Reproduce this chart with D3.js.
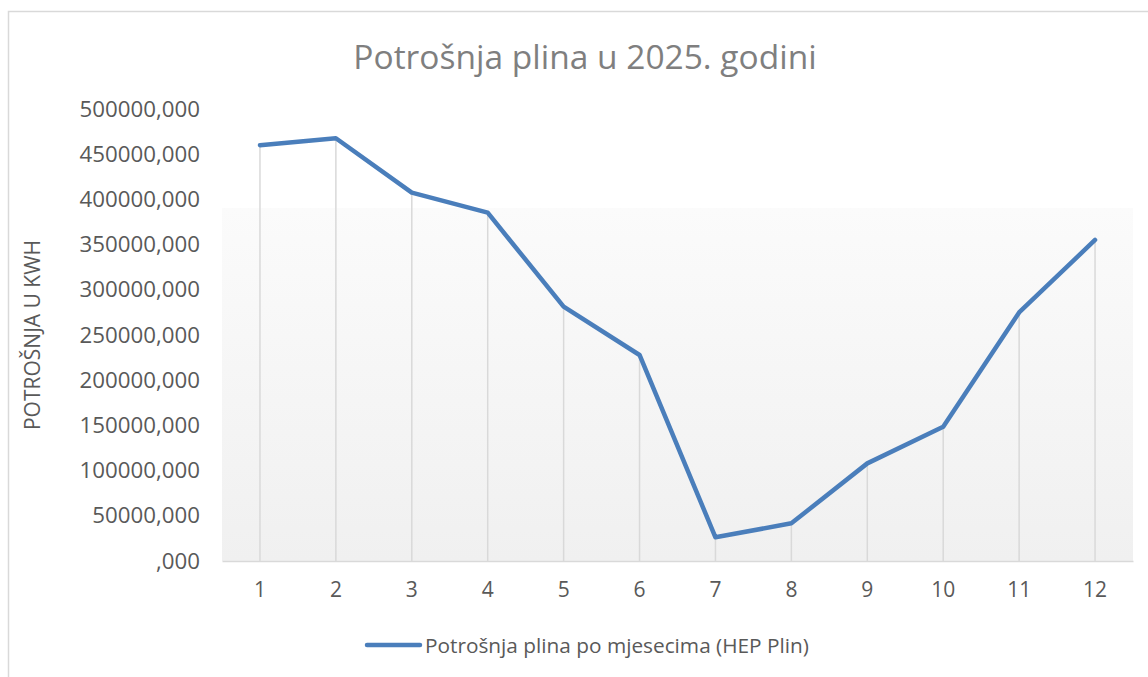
<!DOCTYPE html>
<html>
<head>
<meta charset="utf-8">
<script src="https://cdn.jsdelivr.net/npm/d3@7"></script>
<style>
  body { margin: 0; background: #fff; }
  svg { display: block; font-family: "Open Sans", sans-serif; }
</style>
</head>
<body>
<div id="chart"></div>
<script>
// data
const months = ["1", "2", "3", "4", "5", "6", "7", "8", "9", "10", "11", "12"];
const consumption = [460000, 467600, 407500, 385300, 281300, 227900, 26200, 41700, 108000, 148600, 275000, 355100];
const yTicks = [0, 50000, 100000, 150000, 200000, 250000, 300000, 350000, 400000, 450000, 500000];
const title = "Potrošnja plina u 2025. godini";
const yTitle = "POTROŠNJA U KWH";
const seriesName = "Potrošnja plina po mjesecima (HEP Plin)";

const W = 1148, H = 677;
const plot = { left: 222, right: 1133, top: 109, bottom: 561 };

const svg = d3.select("#chart").append("svg")
  .attr("width", W)
  .attr("height", H);

// gradient for plot background
const defs = svg.append("defs");
const grad = defs.append("linearGradient")
  .attr("id", "bg")
  .attr("x1", 0).attr("y1", 0).attr("x2", 0).attr("y2", 1);
grad.append("stop").attr("offset", "0%").attr("stop-color", "#fbfbfb");
grad.append("stop").attr("offset", "100%").attr("stop-color", "#f0f0f0");

// chart border
svg.append("rect")
  .attr("x", 8.5).attr("y", 11.5)
  .attr("width", W + 10).attr("height", H + 10)
  .attr("fill", "#fff")
  .attr("stroke", "#d9d9d9")
  .attr("stroke-width", 1.5);

const x = d3.scaleBand().domain(months).range([plot.left, plot.right]);
const y = d3.scaleLinear().domain([0, 500000]).range([plot.bottom, plot.top]);
const cx = d => x(d) + x.bandwidth() / 2;

svg.append("rect")
  .attr("x", plot.left).attr("y", 208)
  .attr("width", plot.right - plot.left).attr("height", plot.bottom - 208)
  .attr("fill", "url(#bg)");

// title
svg.append("text")
  .attr("x", 585).attr("y", 69)
  .attr("text-anchor", "middle")
  .attr("font-size", "33.5px")
  .attr("fill", "#7f7f7f")
  .text(title);

// drop lines
svg.append("g").selectAll("line")
  .data(consumption)
  .join("line")
  .attr("x1", (d, i) => cx(months[i])).attr("x2", (d, i) => cx(months[i]))
  .attr("y1", d => y(d)).attr("y2", plot.bottom)
  .attr("stroke", "#d9d9d9")
  .attr("stroke-width", 1.5);

// x axis
const xAxis = svg.append("g")
  .attr("transform", `translate(0,${plot.bottom})`)
  .call(d3.axisBottom(x).tickSize(0).tickPadding(21));
xAxis.select(".domain").attr("stroke", "#d9d9d9").attr("stroke-width", 1.5);
xAxis.selectAll("text")
  .attr("font-size", "21px")
  .attr("fill", "#595959")
  .attr("font-family", "Open Sans, sans-serif");

// y axis
const fmt = v => (v === 0 ? "" : String(v)) + ",000";
const yAxis = svg.append("g")
  .attr("transform", `translate(${plot.left},0)`)
  .call(d3.axisLeft(y).tickValues(yTicks).tickFormat(fmt).tickSize(0).tickPadding(22));
yAxis.select(".domain").remove();
yAxis.selectAll("text")
  .attr("font-size", "22.3px")
  .attr("fill", "#595959")
  .attr("font-family", "Open Sans, sans-serif");

// y title
svg.append("text")
  .attr("transform", `translate(40,${(plot.top + plot.bottom) / 2}) rotate(-90)`)
  .attr("text-anchor", "middle")
  .attr("font-size", "21px")
  .attr("fill", "#595959")
  .text(yTitle);

// the line
const line = d3.line()
  .x((d, i) => cx(months[i]))
  .y(d => y(d));

svg.append("path")
  .datum(consumption)
  .attr("d", line)
  .attr("fill", "none")
  .attr("stroke", "#4a7ebb")
  .attr("stroke-width", 4.5)
  .attr("stroke-linejoin", "round")
  .attr("stroke-linecap", "round");

// legend
const legend = svg.append("g").attr("transform", "translate(367,645)");
legend.append("line")
  .attr("x1", 0).attr("x2", 53)
  .attr("stroke", "#4a7ebb")
  .attr("stroke-width", 4.5)
  .attr("stroke-linecap", "round");
legend.append("text")
  .attr("x", 58).attr("y", 7.5)
  .attr("font-size", "20.8px")
  .attr("fill", "#595959")
  .text(seriesName);
</script>
</body>
</html>
